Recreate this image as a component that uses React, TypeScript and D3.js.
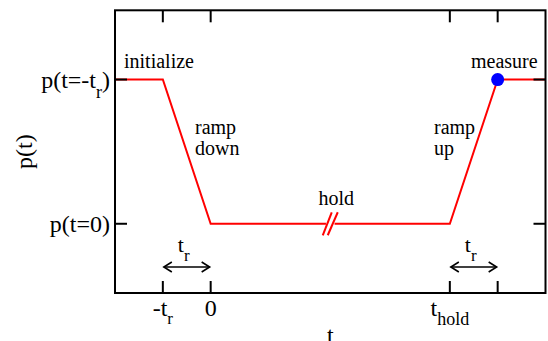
import React from 'react';
import * as d3 from 'd3';

// --- chart data (time in units of t_r, pressure normalised) ---
const protocolT = [-2, -1, 0, 5, 6, 7];
const protocolP = [1, 1, 0, 0, 1, 1];
const xTicks = [-1, 0, 5, 6];
const xTickLabels = [['-t', 'r'], ['0', ''], ['t', 'hold'], ['', '']];
const yTicks = [1, 0];
const yTickLabels = [['p(t=-t', 'r', ')'], ['p(t=0)', '', '']];
const measurePoint = { t: 6, p: 1 };
const holdBreakT = 2.5;
const rampArrows = [[-1, 0], [5, 6]];
const arrowP = -0.3;

const W = 548, H = 341;
const FONT = "'Liberation Serif', 'DejaVu Serif', serif";

export default function App() {
  const x = d3.scaleLinear().domain([-2, 7]).range([115, 545.5]);
  const y = d3.scaleLinear().domain([-0.48, 1.48]).range([293, 10.3]);
  const [x0, x1] = x.range();
  const [y0, y1] = y.range();

  const pts: [number, number][] = protocolT.map((t, i) => [t, protocolP[i]]);
  const line = d3.line<[number, number]>().x(d => x(d[0])).y(d => y(d[1]));

  // split the hold segment for the break marks
  const bx = x(holdBreakT);
  const leftPart = pts.filter(d => d[0] <= 0);
  const rightPart = pts.filter(d => d[0] >= 5);
  const by = y(0);

  const tickLen = 12;
  const txt = { fontFamily: FONT };

  return (
    <svg width={W} height={H} style={{ position: 'absolute', left: 0, top: 0, background: '#fff', fontFamily: FONT }}>
      <rect width={W} height={H} fill="#fff" />

      {/* protocol curve */}
      <path d={line([...leftPart, [holdBreakT - 0.09, 0]]) || ''} fill="none" stroke="#ff0000" strokeWidth={2} />
      <path d={line([[holdBreakT + 0.09, 0], ...rightPart]) || ''} fill="none" stroke="#ff0000" strokeWidth={2} />
      <line x1={bx - 7.5} y1={by + 11.5} x2={bx + 1.5} y2={by - 11.5} stroke="#ff0000" strokeWidth={2} />
      <line x1={bx - 2.5} y1={by + 11.5} x2={bx + 7.5} y2={by - 11.5} stroke="#ff0000" strokeWidth={2} />

      {/* frame + ticks */}
      <rect x={x0} y={y1} width={x1 - x0} height={y0 - y1} fill="none" stroke="#000" strokeWidth={2} />
      {xTicks.map(t => (
        <g key={'xt' + t} stroke="#000" strokeWidth={2}>
          <line x1={x(t)} x2={x(t)} y1={y0} y2={y0 - tickLen} />
          <line x1={x(t)} x2={x(t)} y1={y1} y2={y1 + tickLen} />
        </g>
      ))}
      {yTicks.map(p => (
        <g key={'yt' + p} stroke="#000" strokeWidth={2}>
          <line x1={x0} x2={x0 + tickLen} y1={y(p)} y2={y(p)} />
          <line x1={x1} x2={x1 - tickLen} y1={y(p)} y2={y(p)} />
        </g>
      ))}

      {/* tick labels */}
      {xTicks.map((t, i) => {
        const [main, sub] = xTickLabels[i];
        if (!main) return null;
        return (
          <text key={'xl' + t} x={x(t)} y={y0 + 23} fontSize={24} textAnchor="middle" style={txt}>
            {main}
            {sub && <tspan dy={sub === 'hold' ? 9 : 8} fontSize={sub === 'hold' ? 18 : 17}>{sub}</tspan>}
          </text>
        );
      })}
      {yTicks.map((p, i) => {
        const [main, sub, tail] = yTickLabels[i];
        return (
          <text key={'yl' + p} x={x0 - 5} y={y(p) + 8} fontSize={24} textAnchor="end" style={txt}>
            {main}
            {sub && <tspan dy={10} fontSize={18}>{sub}</tspan>}
            {tail && <tspan dy={-10}>{tail}</tspan>}
          </text>
        );
      })}

      {/* axis titles */}
      <text transform={`translate(32,${(y0 + y1) / 2}) rotate(-90)`} fontSize={24} textAnchor="middle" style={txt}>p(t)</text>
      <text x={(x0 + x1) / 2} y={H + 2} fontSize={24} textAnchor="middle" style={txt}>t</text>

      {/* ramp-duration arrows */}
      {rampArrows.map(([a, b], i) => {
        const ya = y(arrowP);
        const xa = x(a) + 1, xb = x(b) - 1;
        return (
          <g key={'ar' + i} stroke="#000" strokeWidth={1.6} fill="none">
            <line x1={xa} x2={xb} y1={ya} y2={ya} />
            <polyline points={`${xa + 8},${ya - 5} ${xa},${ya} ${xa + 8},${ya + 5}`} />
            <polyline points={`${xb - 8},${ya - 5} ${xb},${ya} ${xb - 8},${ya + 5}`} />
            <text x={(x(a) + x(b)) / 2 - 3} y={ya - 15} fontSize={22} textAnchor="middle" stroke="none" fill="#000" style={txt}>
              t<tspan dy={9} fontSize={17}>r</tspan>
            </text>
          </g>
        );
      })}

      {/* measurement point */}
      <circle cx={x(measurePoint.t)} cy={y(measurePoint.p)} r={6.5} fill="#0000ff" />

      {/* annotations */}
      <g fontSize={20} style={txt}>
        <text x={124} y={68}>initialize</text>
        <text x={195} y={134}>ramp</text>
        <text x={195} y={155}>down</text>
        <text x={bx + 6} y={205} textAnchor="middle">hold</text>
        <text x={434} y={134}>ramp</text>
        <text x={434} y={155}>up</text>
        <text x={471} y={68}>measure</text>
      </g>
    </svg>
  );
}
